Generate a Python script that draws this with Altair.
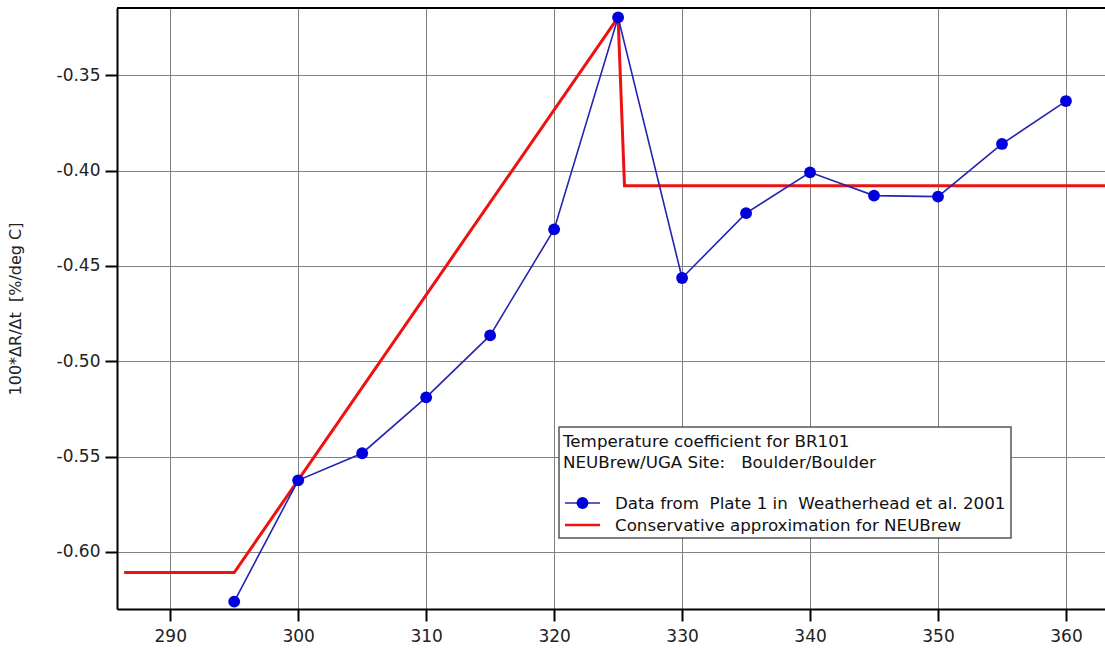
import altair as alt
import pandas as pd

# ---- data ----
wavelength = [295, 300, 305, 310, 315, 320, 325, 330, 335, 340, 345, 350, 355, 360]
coef = [-0.626, -0.5624, -0.5482, -0.5189, -0.4864, -0.4308, -0.3196,
        -0.4563, -0.4223, -0.4009, -0.4131, -0.4136, -0.3860, -0.3635]

approx_x = [286.4, 295.0, 325.0, 325.5, 364.0]
approx_y = [-0.6108, -0.6108, -0.3196, -0.4079, -0.4079]

x_ticks = [290, 300, 310, 320, 330, 340, 350, 360]
y_ticks = [-0.60, -0.55, -0.50, -0.45, -0.40, -0.35]

legend_lines = ["Temperature coefficient for BR101",
                "NEUBrew/UGA Site:\u00a0\u00a0 Boulder/Boulder"]
series_labels = ["Data from\u00a0 Plate 1 in\u00a0 Weatherhead et al. 2001",
                 "Conservative approximation for NEUBrew"]
y_title = "100*\u0394R/\u0394t\u00a0 [%/deg C]"

X_DOMAIN = [285.84, 363.05]
Y_DOMAIN = [-0.6299, -0.3147]
W, H = 988, 601
FONT = "DejaVu Sans"
BLUE = "#0000dd"
BLUE_LINE = "#2424b0"
RED = "#ee1111"
LEG_FS = 16.7

data_df = pd.DataFrame({"x": wavelength, "y": coef})
approx_df = pd.DataFrame({"x": approx_x, "y": approx_y})
one = pd.DataFrame({"a": [0]})

x_axis = alt.Axis(values=x_ticks, title=None, format="d",
                  domainColor="black", domainWidth=2,
                  tickColor="black", tickWidth=2, tickSize=12,
                  labelFont=FONT, labelFontSize=17, labelColor="#222",
                  labelPadding=7, grid=True, gridColor="#808080", gridWidth=1)
y_axis = alt.Axis(values=y_ticks, title=y_title,
                  labelExpr="replace(format(datum.value, '.2f'), '\u2212', '-')",
                  domainColor="black", domainWidth=2,
                  tickColor="black", tickWidth=2, tickSize=12,
                  labelFont=FONT, labelFontSize=17, labelColor="#222",
                  labelPadding=5, grid=True, gridColor="#808080", gridWidth=1,
                  titleFont=FONT, titleFontSize=16, titleFontWeight="normal",
                  titleColor="#222", titlePadding=33)

xs = alt.Scale(domain=X_DOMAIN, nice=False, zero=False)
ys = alt.Scale(domain=Y_DOMAIN, nice=False, zero=False)

red = alt.Chart(approx_df).mark_line(color=RED, strokeWidth=3, clip=True).encode(
    x=alt.X("x:Q", scale=xs, axis=x_axis),
    y=alt.Y("y:Q", scale=ys, axis=y_axis),
)
blue_line = alt.Chart(data_df).mark_line(color=BLUE_LINE, strokeWidth=1.6).encode(
    x=alt.X("x:Q", scale=xs), y=alt.Y("y:Q", scale=ys))
blue_pts = alt.Chart(data_df).mark_circle(color=BLUE, size=140, opacity=1).encode(
    x=alt.X("x:Q", scale=xs), y=alt.Y("y:Q", scale=ys))

top_border = alt.Chart(one).mark_rule(color="black", strokeWidth=2).encode(
    x=alt.value(0), x2=alt.value(W), y=alt.value(0))

# legend box (annotation)
LX0, LX1, LY0, LY1 = 442, 894, 419, 530
box = alt.Chart(one).mark_rect(fill="white", stroke="#555", strokeWidth=1.5).encode(
    x=alt.value(LX0), x2=alt.value(LX1), y=alt.value(LY0), y2=alt.value(LY1))

def label(txt, x, y):
    return alt.Chart(one).mark_text(text=txt, font=FONT, fontSize=LEG_FS,
                                    align="left", baseline="alphabetic",
                                    color="#111").encode(x=alt.value(x), y=alt.value(y))

t1 = label(legend_lines[0], 446, 439)
t2 = label(legend_lines[1], 446, 459.5)
t3 = label(series_labels[0], 498, 501)
t4 = label(series_labels[1], 498, 522.5)
sym1_line = alt.Chart(one).mark_rule(color=BLUE_LINE, strokeWidth=1.6).encode(
    x=alt.value(448), x2=alt.value(483), y=alt.value(495))
sym1_dot = alt.Chart(one).mark_circle(color=BLUE, size=140, opacity=1).encode(
    x=alt.value(465.5), y=alt.value(495))
sym2_line = alt.Chart(one).mark_rule(color=RED, strokeWidth=2.5).encode(
    x=alt.value(448), x2=alt.value(483), y=alt.value(517))

chart = alt.layer(
    red, blue_line, blue_pts, top_border,
    box, t1, t2, t3, t4, sym1_line, sym1_dot, sym2_line
).properties(
    width=W, height=H,
    autosize=alt.AutoSizeParams(type="none"),
    padding={"left": 117, "top": 8, "right": 0, "bottom": 40},
    background="white",
).configure_view(stroke=None)

chart.save("out.html", embed_options={"renderer": "svg", "actions": False})
